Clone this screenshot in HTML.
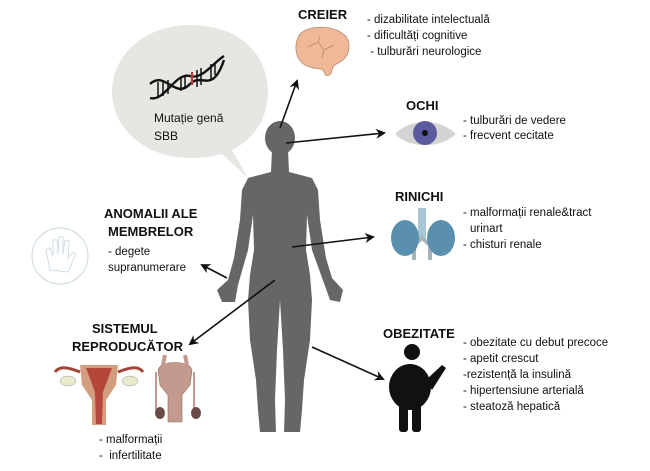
<!DOCTYPE html>
<html><head><meta charset="utf-8"><style>
html,body{margin:0;padding:0;background:#fff;width:650px;height:471px;overflow:hidden}
svg{display:block}
text{font-family:"Liberation Sans",sans-serif;fill:#111}
.h{font-weight:bold;font-size:13px}
.t{font-size:11.5px}
</style></head><body>
<svg width="650" height="471" viewBox="0 0 650 471" xmlns="http://www.w3.org/2000/svg">
<defs><marker id="a" markerWidth="10" markerHeight="10" refX="8" refY="5" orient="auto" markerUnits="userSpaceOnUse"><path d="M0,0 L10,5 L0,10 L3,5 Z" fill="#111"/></marker></defs>
<path d="M190,25 C240,25 268,55 268,92 C268,120 252,140 232,150 L248,178 L222,154 C212,157 200,158 190,158 C145,158 112,128 112,92 C112,55 145,25 190,25 Z" fill="#e6e6e2"/>
<g stroke="#111" stroke-width="2.4" fill="none">
<path d="M150,84 C165,70 175,100 190,84 C202,72 212,95 224,60"/>
<path d="M150,98 C165,102 175,72 190,76 C202,80 214,62 224,56"/>
</g>
<g stroke="#111" stroke-width="1.5"><line x1="158" y1="82" x2="158" y2="97"/><line x1="163" y1="80" x2="163" y2="96"/><line x1="168" y1="80" x2="168" y2="94"/><line x1="181" y1="77" x2="181" y2="91"/><line x1="185" y1="76" x2="185" y2="89"/><line x1="197" y1="70" x2="197" y2="87"/><line x1="201" y1="68" x2="201" y2="85"/><line x1="211" y1="64" x2="211" y2="80"/><line x1="215" y1="62" x2="215" y2="75"/></g>
<line x1="192" y1="72" x2="192" y2="85" stroke="#c0393b" stroke-width="2.2"/>
<text class="t" x="154" y="122" style="font-size:12px">Mutație genă</text>
<text class="t" x="154" y="140" style="font-size:12px">SBB</text>
<g fill="#646766">
<ellipse cx="280" cy="138" rx="15" ry="17"/>
<path d="M272,150 L288,150 L289,172 L312,178 L318,190 L320,220 L326,258 L332,278 L343,290 L340,302 L330,300 L325,286 L312,250 L307,215 L306,250 L310,275 L312,300 L310,340 L304,380 L302,410 L300,432 L284,432 L285,400 L283,350 L280,300 L277,350 L275,400 L276,432 L260,432 L258,410 L256,380 L250,340 L248,300 L250,275 L254,250 L253,215 L248,250 L238,285 L235,302 L222,302 L217,290 L228,280 L234,258 L240,220 L242,190 L248,178 L271,172 Z"/>
</g>
<g stroke="#111" stroke-width="1.6" marker-end="url(#a)">
<line x1="280" y1="128" x2="297" y2="81"/>
<line x1="286" y1="143" x2="384" y2="133"/>
<line x1="292" y1="247" x2="373" y2="237"/>
<line x1="227" y1="278" x2="202" y2="265"/>
<line x1="275" y1="280" x2="190" y2="344"/>
<line x1="312" y1="347" x2="383" y2="379"/>
</g>
<g transform="translate(0,12)">
<path d="M300,22 C310,12 335,14 343,22 C352,28 350,42 343,48 C338,52 333,52 332,58 C331,64 326,66 324,60 C322,55 318,58 310,55 C296,52 292,34 300,22 Z" fill="#f0b896" stroke="#b58c72" stroke-width="0.8"/>
<path d="M308,35 L318,30 L324,38 L334,33 M318,30 L320,24 M324,38 L322,46" stroke="#b58c72" fill="none" stroke-width="0.8"/>
</g>
<text class="h" x="298" y="19">CREIER</text>
<text class="t" x="367" y="23">- dizabilitate intelectuală</text>
<text class="t" x="367" y="39">- dificultăți cognitive</text>
<text class="t" x="367" y="55">&#160;- tulburări neurologice</text>
<text class="h" x="406" y="110">OCHI</text>
<path d="M395,134 C410,118 440,118 456,134 C440,149 410,149 395,134 Z" fill="#d4d4d2"/>
<circle cx="425" cy="133" r="12" fill="#5b5ba0"/><circle cx="425" cy="133" r="3" fill="#111"/>
<text class="t" x="463" y="124">- tulburări de vedere</text>
<text class="t" x="463" y="139">- frecvent cecitate</text>
<text class="h" x="395" y="201">RINICHI</text>
<rect x="418" y="208" width="8" height="30" fill="#a6c5d5"/>
<path d="M414,260 L414,245 L422,238 L430,245 L430,260" stroke="#a6b3b8" stroke-width="4" fill="none"/>
<ellipse cx="405" cy="238" rx="14" ry="18" fill="#5b8fae"/>
<ellipse cx="441" cy="238" rx="14" ry="18" fill="#5b8fae"/>
<text class="t" x="463" y="216">- malformații renale&amp;tract</text>
<text class="t" x="470" y="232">urinart</text>
<text class="t" x="463" y="248">- chisturi renale</text>
<text class="h" x="104" y="218">ANOMALII ALE</text>
<text class="h" x="108" y="236">MEMBRELOR</text>
<circle cx="60" cy="256" r="28" fill="#fff" stroke="#cfdde6" stroke-width="1.2"/>
<path d="M50,270 L46,250 L50,248 L53,256 L53,240 L57,240 L58,254 L59,237 L63,237 L63,254 L65,240 L69,241 L68,258 L73,252 L76,254 L68,272 Z" fill="none" stroke="#cfdde6" stroke-width="1"/>
<text class="t" x="108" y="255">- degete</text>
<text class="t" x="108" y="271">supranumerare</text>
<text class="h" x="92" y="333">SISTEMUL</text>
<text class="h" x="72" y="351">REPRODUCĂTOR</text>
<path d="M80,365 L118,365 L116,385 L106,400 L106,425 L92,425 L92,400 L82,385 Z" fill="#d49d80"/>
<path d="M86,368 L112,368 L103,392 L102,424 L96,424 L95,392 Z" fill="#b5473a"/>
<path d="M80,372 C70,368 60,365 55,372 M118,372 C128,368 138,365 143,372" stroke="#a0473a" stroke-width="3" fill="none"/>
<ellipse cx="68" cy="381" rx="8" ry="5" fill="#e9eacb" stroke="#999" stroke-width="0.5"/>
<ellipse cx="130" cy="381" rx="8" ry="5" fill="#e9eacb" stroke="#999" stroke-width="0.5"/>
<path d="M158,370 C160,360 190,360 192,370 L190,385 L182,395 L182,422 L168,422 L168,395 L160,385 Z" fill="#c49a8e" stroke="#8a6a62" stroke-width="0.6"/>
<path d="M163,365 L165,355 M187,365 L185,355" stroke="#c49a8e" stroke-width="4"/>
<path d="M156,372 L156,410 M194,372 L194,410" stroke="#c49a8e" stroke-width="2" fill="none"/>
<ellipse cx="160" cy="413" rx="5" ry="6" fill="#6a4a44"/><ellipse cx="196" cy="413" rx="5" ry="6" fill="#6a4a44"/>
<text class="t" x="99" y="443">- malformații</text>
<text class="t" x="99" y="459">-&#160; infertilitate</text>
<text class="h" x="383" y="338">OBEZITATE</text>
<g fill="#111">
<circle cx="412" cy="352" r="8"/>
<ellipse cx="410" cy="387" rx="21" ry="23"/>
<rect x="399" y="400" width="9" height="32" rx="3"/>
<rect x="412" y="400" width="9" height="32" rx="3"/>
<path d="M426,380 L442,365 L446,368 L432,390 Z"/>
</g>
<text class="t" x="463" y="346">- obezitate cu debut precoce</text>
<text class="t" x="463" y="362">- apetit crescut</text>
<text class="t" x="463" y="378">-rezistență la insulină</text>
<text class="t" x="463" y="394">- hipertensiune arterială</text>
<text class="t" x="463" y="410">- steatoză hepatică</text>
</svg>
</body></html>
